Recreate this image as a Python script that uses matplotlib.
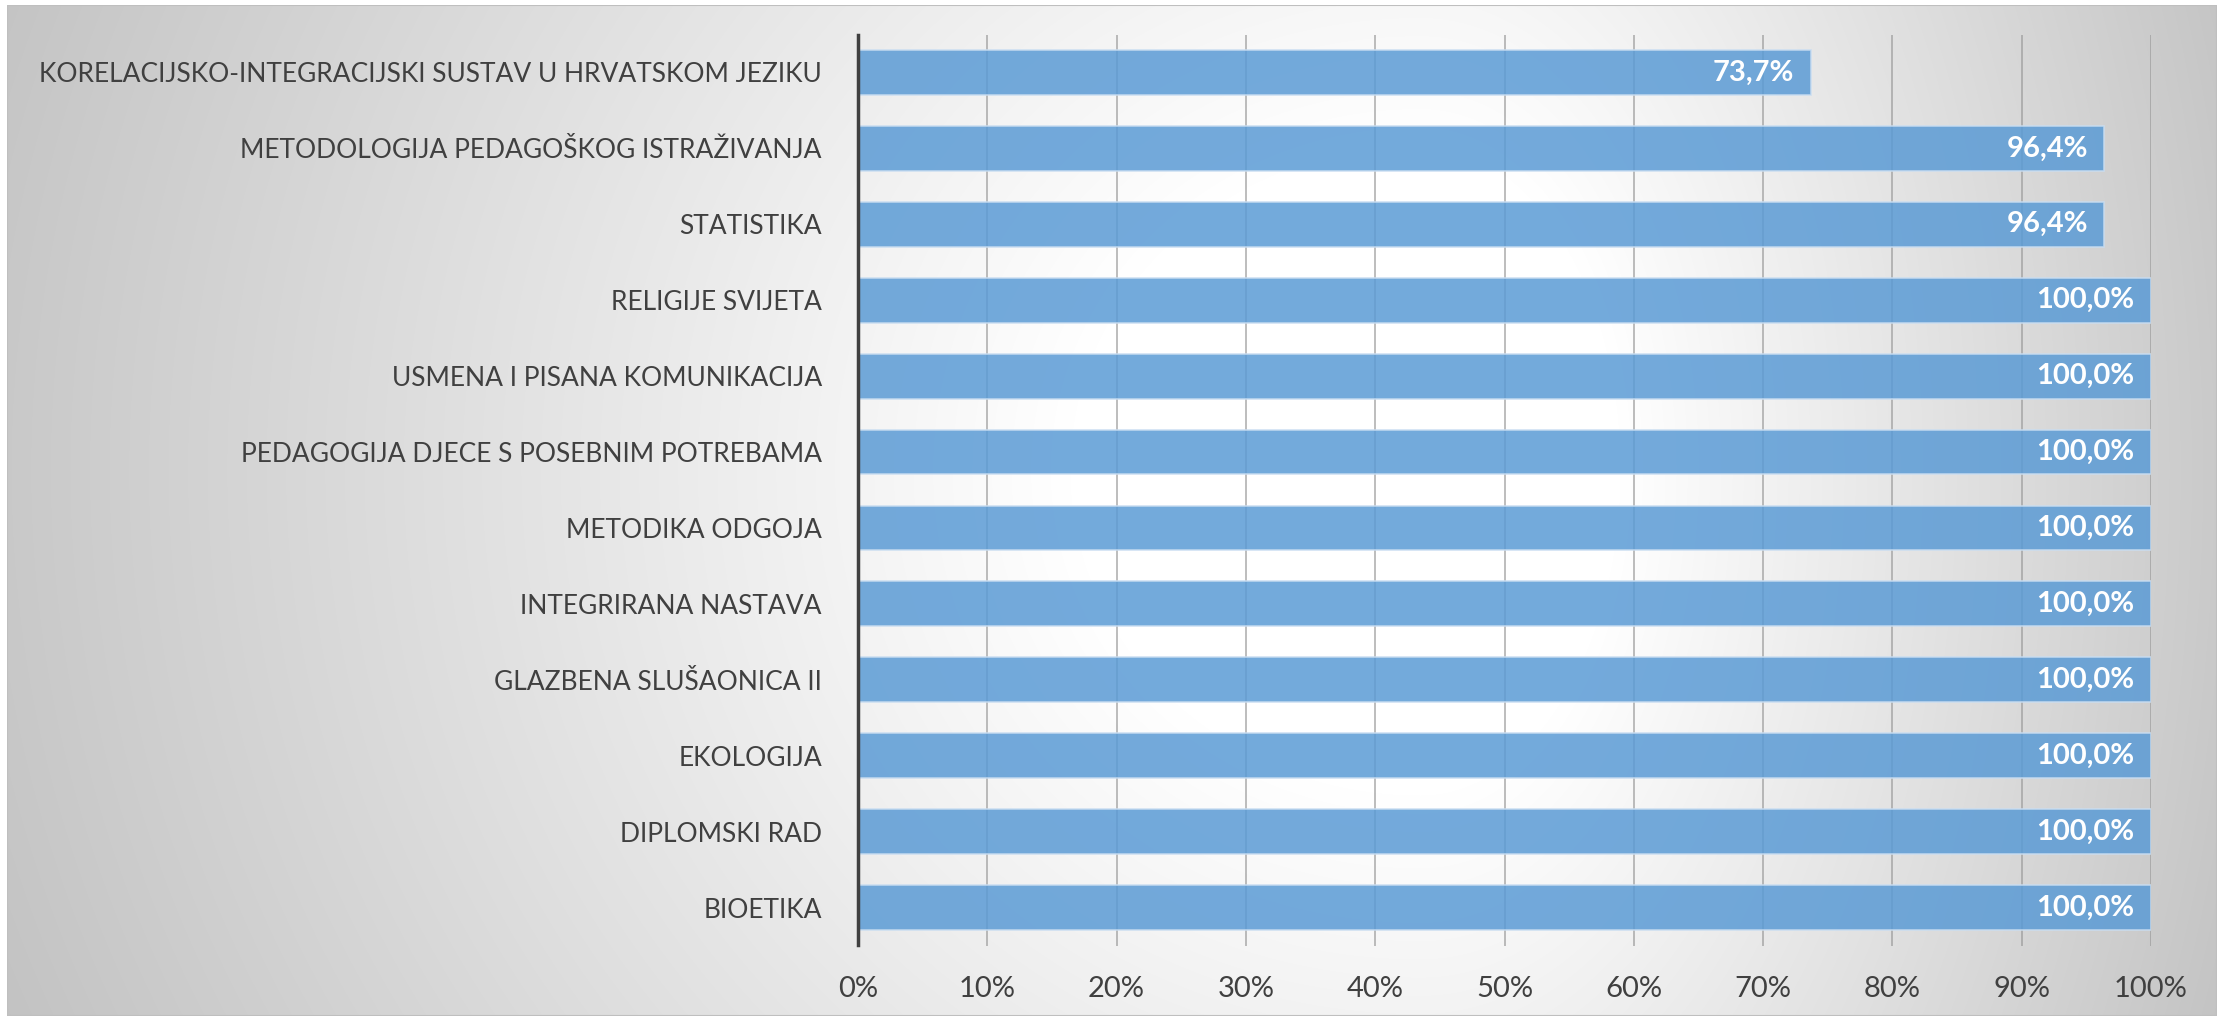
import numpy as np
import matplotlib.pyplot as plt
from matplotlib.patches import Rectangle

# data
categories = [
    "KORELACIJSKO-INTEGRACIJSKI SUSTAV U HRVATSKOM JEZIKU",
    "METODOLOGIJA PEDAGOŠKOG ISTRAŽIVANJA",
    "STATISTIKA",
    "RELIGIJE SVIJETA",
    "USMENA I PISANA KOMUNIKACIJA",
    "PEDAGOGIJA DJECE S POSEBNIM POTREBAMA",
    "METODIKA ODGOJA",
    "INTEGRIRANA NASTAVA",
    "GLAZBENA SLUŠAONICA II",
    "EKOLOGIJA",
    "DIPLOMSKI RAD",
    "BIOETIKA",
]
values = [73.7, 96.4, 96.4, 100.0, 100.0, 100.0, 100.0, 100.0, 100.0, 100.0, 100.0, 100.0]
x_ticks = [0, 10, 20, 30, 40, 50, 60, 70, 80, 90, 100]

W, H = 2228, 1016
plt.rcParams['font.family'] = ['Lato', 'DejaVu Sans']
fig = plt.figure(figsize=(W / 100, H / 100), dpi=100)
fig.patch.set_facecolor('white')

# background with a soft radial gradient (chart area)
bx0, bx1, by0, by1 = 7, 2217, 5, 1016
bg = fig.add_axes([bx0 / W, 0, (bx1 - bx0) / W, (H - by0) / H])
bg.set_axis_off()
xx, yy = np.meshgrid(np.arange(bx0, bx1), np.arange(by0, by1))
cx, cy = 1420, 470
dx = xx - cx
rx = np.where(dx < 0, 1400.0, 800.0)
t = np.sqrt((dx / rx) ** 2 + ((yy - cy) / 1300.0) ** 2)
s = np.clip((t - 0.25) / 0.75, 0, 1.4)
val = 1 - 0.21 * s
img = np.dstack([val, val, val])
bg.imshow(img, extent=[0, 1, 0, 1], aspect='auto', origin='upper')
bg.add_patch(Rectangle((0, 0), 1, 1, transform=bg.transAxes, fill=False,
                       edgecolor='#BFBFBF', linewidth=1.5))

# plot area
left, right, top, bottom = 858, 2151, 34.5, 945.5
ax = fig.add_axes([left / W, (H - bottom) / H, (right - left) / W, (bottom - top) / H])
ax.patch.set_alpha(0)

y = np.arange(len(categories))
bars = ax.barh(y, values, height=0.59, color='#5B9BD5', alpha=0.85,
               edgecolor='#C9DDF1', linewidth=1.2, zorder=3)
for yi, v in zip(y, values):
    ax.annotate(f"{v:.1f}".replace('.', ',') + '%', xy=(v, yi), xytext=(-12, 0),
                textcoords='offset points', ha='right', va='center',
                color='white', fontsize=21, fontweight='bold', zorder=4)

ax.set_xlim(0, 100)
ax.set_ylim(len(categories) - 0.5, -0.5)
ax.set_yticks(y)
ax.set_yticklabels(categories)
ax.set_xticks(x_ticks)
ax.set_xticklabels([f"{v}%" for v in x_ticks])

ax.xaxis.grid(True, color='#999999', linewidth=1.3, alpha=0.7, zorder=1)
ax.set_axisbelow(True)
ax.tick_params(axis='both', length=0, colors='#404040')
ax.tick_params(axis='y', pad=26, labelsize=19)
ax.tick_params(axis='x', pad=22, labelsize=21)
for side in ['top', 'right', 'bottom']:
    ax.spines[side].set_visible(False)
ax.spines['left'].set_color('#404040')
ax.spines['left'].set_linewidth(2.5)
ax.spines['left'].set_zorder(5)

fig.savefig('out.png', dpi=100)
